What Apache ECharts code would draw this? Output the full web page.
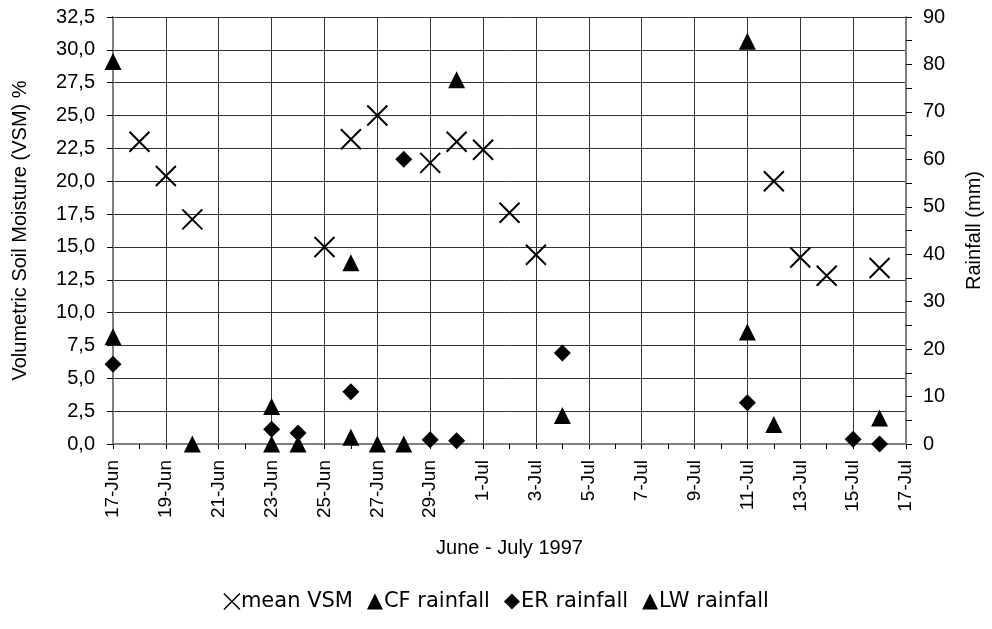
<!DOCTYPE html>
<html>
<head>
<meta charset="utf-8">
<script src="https://cdn.jsdelivr.net/npm/echarts@6/dist/echarts.min.js"></script>
<style>html,body{margin:0;padding:0;background:#fff}#c{width:992px;height:629px}</style>
</head>
<body>
<div id="c"></div>
<script>
// ---- data ----
const xTickLabels = ['17-Jun','19-Jun','21-Jun','23-Jun','25-Jun','27-Jun','29-Jun','1-Jul','3-Jul','5-Jul','7-Jul','9-Jul','11-Jul','13-Jul','15-Jul','17-Jul'];

const vsmDates  = ['18-Jun','19-Jun','20-Jun','25-Jun','26-Jun','27-Jun','29-Jun','30-Jun','1-Jul','2-Jul','3-Jul','12-Jul','13-Jul','14-Jul','16-Jul'];
const vsmValues = [23.0, 20.4, 17.1, 15.0, 23.2, 25.0, 21.4, 23.0, 22.4, 17.6, 14.4, 20.0, 14.2, 12.8, 13.4];

const cfDates  = ['17-Jun','20-Jun','23-Jun','24-Jun','26-Jun','27-Jun','28-Jun','30-Jun','4-Jul','11-Jul','12-Jul','16-Jul'];
const cfValues = [80.6, 0, 7.9, 0, 38.2, 0, 0, 76.8, 6.0, 84.9, 4.1, 5.5];

const erDates  = ['17-Jun','23-Jun','24-Jun','26-Jun','28-Jun','29-Jun','30-Jun','4-Jul','11-Jul','15-Jul','16-Jul'];
const erValues = [16.8, 3.1, 2.3, 11.0, 60.0, 0.9, 0.7, 19.2, 8.7, 1.0, 0.0];

const lwDates  = ['17-Jun','23-Jun','26-Jun','11-Jul'];
const lwValues = [22.6, 0, 1.4, 23.6];

// ---- helpers ----
function dayIndex(label){ // days since 17-Jun
  const [d, m] = label.split('-');
  return m === 'Jun' ? (+d - 17) : (+d + 13);
}
function pairs(dates, vals){ return dates.map((d,i)=>[dayIndex(d), vals[i]]); }

const FONT = '"Liberation Sans", Arial, sans-serif';
const GRID_C = '#333';
const crossPath = 'path://M0 0 L20 20 M20 0 L0 20';

const chart = echarts.init(document.getElementById('c'), null, {renderer:'canvas'});
chart.setOption({
  animation:false,
  backgroundColor:'#fff',
  grid:{left:113, right:78, top:17, bottom:185, containLabel:false},
  xAxis:{
    type:'value', min:0, max:30, interval:2,
    name:'June - July 1997', nameLocation:'middle', nameGap:94,
    nameTextStyle:{fontFamily:FONT, fontSize:20, color:'#000', verticalAlign:'top'},
    axisLine:{show:true, lineStyle:{color:'#808080', width:2}},
    axisTick:{show:true, length:5, lineStyle:{color:'#000'}},
    minorTick:{show:true, splitNumber:2, length:5, lineStyle:{color:'#000'}},
    splitLine:{show:true, lineStyle:{color:GRID_C, width:1}},
    axisLabel:{rotate:90, fontFamily:FONT, fontSize:19, color:'#000', margin:16,
      formatter:(v)=> xTickLabels[Math.round(v/2)] || ''}
  },
  yAxis:[
    {
      type:'value', min:0, max:32.5, interval:2.5, position:'left',
      name:'Volumetric Soil Moisture (VSM) %', nameLocation:'middle', nameGap:83, nameRotate:90,
      nameTextStyle:{fontFamily:FONT, fontSize:20, color:'#000'},
      axisLine:{show:true, lineStyle:{color:'#808080', width:2}},
      axisTick:{show:true, length:6, lineStyle:{color:'#000'}},
      splitLine:{show:true, lineStyle:{color:GRID_C, width:1}},
      axisLabel:{fontFamily:FONT, fontSize:20, color:'#000', margin:18,
        formatter:(v)=> v.toFixed(1).replace('.', ',')}
    },
    {
      type:'value', min:0, max:90, interval:10, position:'right',
      name:'Rainfall (mm)', nameLocation:'middle', nameGap:58, nameRotate:90,
      nameTextStyle:{fontFamily:FONT, fontSize:20, color:'#000'},
      axisLine:{show:true, lineStyle:{color:'#808080', width:2}},
      axisTick:{show:true, length:6, lineStyle:{color:'#000'}},
      minorTick:{show:true, splitNumber:2, length:6, lineStyle:{color:'#000'}},
      splitLine:{show:false},
      axisLabel:{fontFamily:FONT, fontSize:20, color:'#000', margin:17}
    }
  ],
  legend:{
    bottom:12, left:'center', itemGap:14, itemWidth:16, itemHeight:16,
    textStyle:{fontFamily:'"DejaVu Sans", Verdana, sans-serif', fontSize:21, color:'#000', padding:[0,0,0,-4]},
    data:[
      {name:'mean VSM', icon:crossPath, itemStyle:{color:'transparent', borderColor:'#000', borderWidth:1.5, opacity:1}},
      {name:'CF rainfall', icon:'triangle', itemStyle:{color:'#000', opacity:1}},
      {name:'ER rainfall', icon:'diamond', itemStyle:{color:'#000', opacity:1}},
      {name:'LW rainfall', icon:'triangle', itemStyle:{color:'#000', opacity:1}}
    ]
  },
  series:[
    {name:'mean VSM', type:'scatter', yAxisIndex:0, data:pairs(vsmDates, vsmValues),
     symbol:crossPath, symbolSize:20, z:5,
     itemStyle:{color:'transparent', borderColor:'#000', borderWidth:2, opacity:1}},
    {name:'CF rainfall', type:'scatter', yAxisIndex:1, data:pairs(cfDates, cfValues),
     symbol:'triangle', symbolSize:17, itemStyle:{color:'#000', opacity:1}},
    {name:'ER rainfall', type:'scatter', yAxisIndex:1, data:pairs(erDates, erValues),
     symbol:'diamond', symbolSize:17, itemStyle:{color:'#000', opacity:1}},
    {name:'LW rainfall', type:'scatter', yAxisIndex:1, data:pairs(lwDates, lwValues),
     symbol:'triangle', symbolSize:17, itemStyle:{color:'#000', opacity:1}}
  ]
});
</script>
</body>
</html>
